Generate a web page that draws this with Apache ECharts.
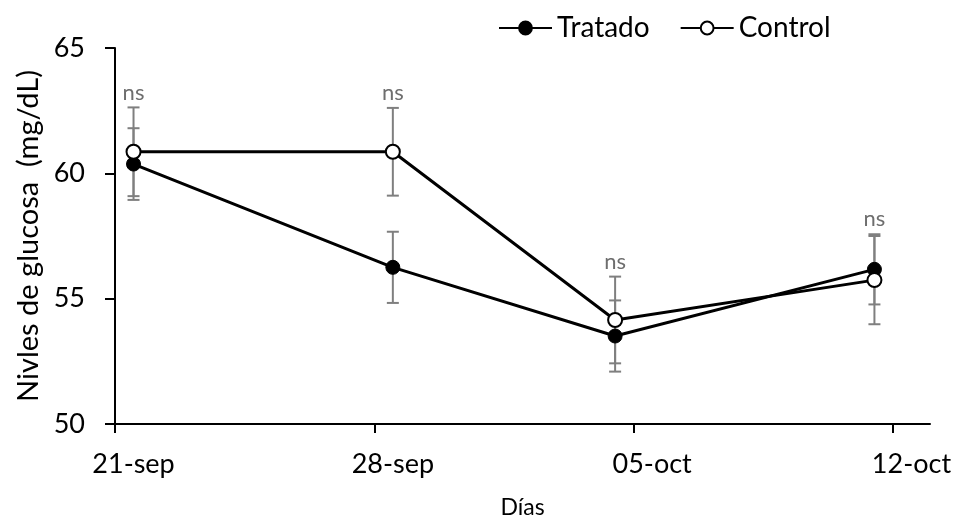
<!DOCTYPE html>
<html>
<head>
<meta charset="utf-8">
<script src="https://cdn.jsdelivr.net/npm/echarts@6/dist/echarts.min.js"></script>
<style>
  html, body { margin: 0; padding: 0; background: #fff; }
  #chart { width: 957px; height: 518px; }
</style>
</head>
<body>
<div id="chart"></div>
<script>
// dias desde el 21-sep (21-sep, 28-sep, 04-oct, 11-oct)
var sampleDays = [0, 7, 13, 20];
var tickDays = [0, 7, 14, 21];
var tickLabels = ['21-sep', '28-sep', '05-oct', '12-oct'];

var tratado = [60.37, 56.25, 53.51, 56.17];
var tratadoErr = [1.43, 1.42, 1.42, 1.40];
var control = [60.86, 60.86, 54.15, 55.74];
var controlErr = [1.77, 1.75, 1.73, 1.76];
var sigLabels = ['ns', 'ns', 'ns', 'ns'];

var FONT = 'Lato';

// como en Excel, cada dia ocupa una franja y el punto va en su centro
function dayX(d) { return d + 0.5; }

function points(means) {
  return means.map(function (m, i) { return [dayX(sampleDays[i]), m]; });
}

function errorSeries(name, means, errs) {
  return {
    type: 'custom',
    name: name,
    z: 2,
    silent: true,
    data: means.map(function (m, i) {
      return [dayX(sampleDays[i]), m - errs[i], m + errs[i]];
    }),
    encode: { x: 0, y: [1, 2] },
    renderItem: function (params, api) {
      var lo = api.coord([api.value(0), api.value(1)]);
      var hi = api.coord([api.value(0), api.value(2)]);
      var w = 6;
      var st = { stroke: '#7f7f7f', lineWidth: 2 };
      return {
        type: 'group',
        children: [
          { type: 'line', shape: { x1: lo[0], y1: lo[1], x2: hi[0], y2: hi[1] }, style: st },
          { type: 'line', shape: { x1: lo[0] - w, y1: lo[1], x2: lo[0] + w, y2: lo[1] }, style: st },
          { type: 'line', shape: { x1: hi[0] - w, y1: hi[1], x2: hi[0] + w, y2: hi[1] }, style: st }
        ]
      };
    }
  };
}

var chart = echarts.init(document.getElementById('chart'));

chart.setOption({
  animation: false,
  backgroundColor: '#fff',
  textStyle: { fontFamily: FONT },
  grid: { left: 115, right: 27, top: 48, bottom: 94, outerBoundsMode: 'none', containLabel: false },
  legend: {
    data: ['Tratado', 'Control'],
    left: 493,
    top: 9,
    itemWidth: 53,
    itemHeight: 16,
    itemGap: 30,
    textStyle: { fontFamily: FONT, fontSize: 28, color: '#000' }
  },
  xAxis: {
    type: 'value',
    min: 0,
    max: 22,
    name: 'Días',
    nameLocation: 'middle',
    nameGap: 72,
    nameTextStyle: { fontFamily: FONT, fontSize: 23, color: '#000' },
    axisLine: { show: true, onZero: false, lineStyle: { color: '#000', width: 2 } },
    axisTick: {
      show: true,
      length: 9,
      customValues: tickDays,
      lineStyle: { color: '#000', width: 2 }
    },
    axisLabel: {
      customValues: tickDays.map(dayX),
      margin: 27,
      fontFamily: FONT,
      fontSize: 27,
      color: '#000',
      formatter: function (v) {
        return tickLabels[tickDays.indexOf(Math.round(v - 0.5))];
      }
    },
    splitLine: { show: false }
  },
  yAxis: {
    type: 'value',
    min: 50,
    max: 65,
    interval: 5,
    name: 'Nivles de glucosa  (mg/dL)',
    nameLocation: 'middle',
    nameGap: 72,
    nameTextStyle: { fontFamily: FONT, fontSize: 29, color: '#000' },
    axisLine: { show: true, lineStyle: { color: '#000', width: 2 } },
    axisTick: { show: true, length: 10, lineStyle: { color: '#000', width: 2 } },
    axisLabel: { margin: 30, fontFamily: FONT, fontSize: 27, color: '#000' },
    splitLine: { show: false }
  },
  series: [
    errorSeries('Tratado err', tratado, tratadoErr),
    errorSeries('Control err', control, controlErr),
    {
      name: 'Tratado',
      type: 'line',
      z: 3,
      data: points(tratado),
      symbol: 'circle',
      symbolSize: 14,
      lineStyle: { color: '#000', width: 3 },
      itemStyle: { color: '#000', borderColor: '#000', borderWidth: 1 }
    },
    {
      name: 'Control',
      type: 'line',
      z: 4,
      data: points(control),
      symbol: 'circle',
      symbolSize: 14,
      lineStyle: { color: '#000', width: 3 },
      itemStyle: { color: '#fff', borderColor: '#000', borderWidth: 2 }
    },
    {
      name: 'sig',
      type: 'custom',
      z: 5,
      silent: true,
      data: tratado.map(function (m, i) {
        return [dayX(sampleDays[i]), Math.max(m + tratadoErr[i], control[i] + controlErr[i])];
      }),
      renderItem: function (params, api) {
        var p = api.coord([api.value(0), api.value(1)]);
        return {
          type: 'text',
          x: p[0],
          y: p[1] - 15,
          style: {
            text: sigLabels[params.dataIndex],
            fill: '#6e6e6e',
            font: '22px ' + FONT,
            align: 'center',
            verticalAlign: 'middle'
          }
        };
      }
    }
  ]
});
</script>
</body>
</html>
